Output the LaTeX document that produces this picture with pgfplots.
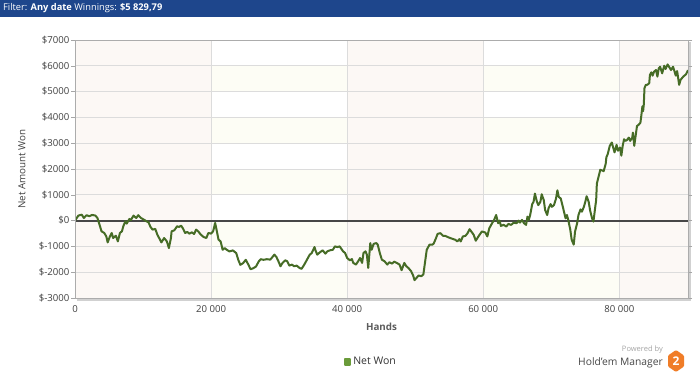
\documentclass[border=0pt]{standalone}
\usepackage{pgfplots}
\pgfplotsset{compat=1.18}
\usepackage{fontspec}
\setmainfont{Open Sans}
\definecolor{hmblue}{RGB}{30,70,140}
\definecolor{linegreen}{RGB}{70,108,38}
\definecolor{leggreen}{RGB}{106,155,58}
\definecolor{pinkbg}{RGB}{252,248,245}
\definecolor{yelbg}{RGB}{253,253,245}
\definecolor{gridc}{RGB}{220,220,220}
\definecolor{tickc}{RGB}{64,64,64}
\definecolor{hmorange}{RGB}{240,125,40}
\begin{document}
\begin{tikzpicture}
\useasboundingbox (0pt,0pt) rectangle (700pt,373pt);
\fill[white] (0pt,0pt) rectangle (700pt,373pt);
\fill[hmblue] (0pt,356pt) rectangle (700pt,373pt);
\node[anchor=west, text=white, font=\fontsize{9.3}{10}\selectfont, inner sep=0] at (3pt,364.5pt) {Filter: \textbf{Any date} Winnings: \textbf{\$5 829,79}};
% frame shadow
\fill[black!18] (688pt,73pt) rectangle (690.5pt,331pt);
\fill[black!18] (77pt,72.5pt) rectangle (690.5pt,75pt);
\begin{axis}[
  axis on top,
  at={(75pt,75pt)}, anchor=south west,
  scale only axis, width=613pt, height=258pt,
  xmin=0, xmax=90.1, ymin=-3000, ymax=7000,
  axis line style={draw=gray!65, line width=0.8pt},
  ytick={-3000,-2000,...,7000},
  yticklabels={\$-3000,\$-2000,\$-1000,\$0,\$1000,\$2000,\$3000,\$4000,\$5000,\$6000,\$7000},
  xtick={0,20,40,60,80},
  xticklabels={0,20 000,40 000,60 000,80 000},
  tick label style={font=\fontsize{9.6}{10}\selectfont, text=tickc},
  yticklabel style={inner xsep=1.5pt},
  tick align=outside, major tick length=4pt,
  ytick style={draw=gray!70, line width=0.6pt},
  xtick style={draw=none},
  ylabel={Net Amount Won},
  ylabel style={at={(axis description cs:-0.0865,0.5)}, anchor=center, font=\fontsize{9.8}{10}\selectfont, text=tickc},
  xlabel={Hands},
  xlabel style={at={(axis description cs:0.5,-0.112)}, anchor=center, font=\fontsize{9.8}{10}\selectfont\bfseries, text=tickc!85},
  legend style={at={(axis description cs:0.438,-0.248)}, anchor=west, draw=none, fill=none, font=\fontsize{10.5}{11}\selectfont, text=black!80, inner sep=0pt},
  legend image code/.code={\fill[leggreen] (0pt,-2.8pt) rectangle (5.6pt,2.8pt);},
]
% background bands
\fill[pinkbg] (axis cs:0,-3000) rectangle (axis cs:20,7000);
\fill[pinkbg] (axis cs:40,-3000) rectangle (axis cs:60,7000);
\fill[pinkbg] (axis cs:80,-3000) rectangle (axis cs:90.1,7000);
\fill[yelbg] (axis cs:20,-3000) rectangle (axis cs:40,-2000);
\fill[yelbg] (axis cs:20,-1000) rectangle (axis cs:40,0);
\fill[yelbg] (axis cs:20,1000) rectangle (axis cs:40,2000);
\fill[yelbg] (axis cs:20,3000) rectangle (axis cs:40,4000);
\fill[yelbg] (axis cs:20,5000) rectangle (axis cs:40,6000);
\fill[yelbg] (axis cs:60,-3000) rectangle (axis cs:80,-2000);
\fill[yelbg] (axis cs:60,-1000) rectangle (axis cs:80,0);
\fill[yelbg] (axis cs:60,1000) rectangle (axis cs:80,2000);
\fill[yelbg] (axis cs:60,3000) rectangle (axis cs:80,4000);
\fill[yelbg] (axis cs:60,5000) rectangle (axis cs:80,6000);
% grid
\pgfplotsinvokeforeach{-2000,-1000,1000,2000,3000,4000,5000,6000}{
  \draw[gridc, line width=0.8pt] (axis cs:0,#1) -- (axis cs:90.1,#1);
}
\pgfplotsinvokeforeach{20,40,60,80}{
  \draw[gridc, line width=0.8pt] (axis cs:#1,-3000) -- (axis cs:#1,7000);
}
\draw[black!72, line width=2pt] (axis cs:0,0) -- (axis cs:90.1,0);
% net won (x in thousands of hands)
\addplot[linegreen, line width=2pt, line join=round] coordinates {
(0,0) (0.5,195) (1.0,230) (1.3,100) (1.7,210) (2.1,170) (2.5,220) (3.0,195) (3.3,100) (3.6,-155)
(3.9,-415) (4.3,-480) (4.6,-610) (4.8,-845) (5.1,-635) (5.4,-480) (5.6,-675) (6.0,-585) (6.3,-805) (6.6,-480)
(6.9,-415) (7.1,-220) (7.4,-25) (7.6,-115) (8.0,65) (8.2,15) (8.6,195) (9.0,100) (9.3,210) (9.7,100)
(10.1,40) (10.5,-25) (10.8,-65) (11.1,-245) (11.4,-350) (11.8,-320) (12.1,-545) (12.5,-740) (12.7,-845) (13.1,-675)
(13.5,-805) (13.8,-1065) (14.1,-675) (14.2,-415) (14.6,-375) (15.0,-220) (15.3,-245) (15.6,-195) (15.9,-320) (16.2,-480)
(16.5,-440) (16.8,-505) (17.2,-455) (17.5,-520) (17.8,-350) (18.1,-415) (18.5,-545) (18.9,-635) (19.3,-675) (19.6,-480)
(20.0,-505) (20.3,-415) (20.6,-90) (20.8,-350) (21.1,-740) (21.4,-805) (21.7,-1130) (22.0,-1065) (22.3,-1130) (22.7,-1195)
(23.2,-1155) (23.7,-1260) (24.0,-1520) (24.3,-1715) (24.7,-1650) (25.1,-1520) (25.5,-1715) (25.8,-1885) (26.2,-1845) (26.6,-1780)
(27.0,-1585) (27.3,-1495) (27.7,-1520) (28.2,-1495) (28.7,-1513) (28.9,-1450) (29.3,-1320) (29.6,-1410) (29.9,-1577) (30.2,-1770)
(30.5,-1640) (30.9,-1540) (31.2,-1577) (31.5,-1745) (31.9,-1705) (32.2,-1770) (32.6,-1745) (33.0,-1835) (33.3,-1870) (33.7,-1705)
(34.1,-1513) (34.5,-1320) (34.8,-1256) (35.2,-1025) (35.4,-1190) (35.6,-1320) (36.0,-1230) (36.4,-1150) (36.8,-1280) (37.1,-1190)
(37.5,-1150) (37.9,-1130) (38.2,-1000) (38.6,-1025) (38.9,-1000) (39.4,-1190) (39.7,-1256) (40.0,-1450) (40.4,-1540) (40.7,-1490)
(40.9,-1640) (41.3,-1705) (41.7,-1540) (41.9,-1450) (42.2,-1640) (42.4,-1256) (42.7,-1190) (42.9,-1320) (43.1,-1835) (43.4,-870)
(43.6,-1130) (43.9,-900) (44.3,-870) (44.5,-935) (44.8,-1256) (45.1,-1513) (45.5,-1577) (45.9,-1705) (46.2,-1615) (46.6,-1667)
(46.9,-1590) (47.3,-1640) (47.7,-1705) (48.0,-1923) (48.4,-1640) (48.7,-1770) (49.0,-1835) (49.4,-1960) (49.7,-2128) (49.9,-2307)
(50.2,-2218) (50.5,-2128) (50.9,-2154) (51.2,-2090) (51.5,-1513) (51.7,-1130) (52.1,-935) (52.5,-935) (52.7,-900) (53.0,-718)
(53.3,-513) (53.7,-487) (54.1,-590) (54.4,-590) (54.8,-640) (55.2,-680) (55.6,-718) (55.9,-744) (56.2,-808) (56.5,-718)
(56.7,-808) (57.0,-615) (57.4,-590) (57.7,-487) (58.0,-333) (58.6,-550) (58.9,-780) (59.3,-613) (59.8,-421) (60.3,-460)
(60.6,-613) (60.9,-294) (61.3,-102) (61.6,26) (61.9,217) (62.2,-102) (62.4,0) (62.6,-204) (63.0,-166) (63.4,-230)
(63.7,-128) (64.1,-166) (64.5,-77) (64.9,-102) (65.2,0) (65.4,-77) (65.7,26) (66.0,-102) (66.3,-166) (66.5,153)
(66.7,26) (66.9,217) (67.2,639) (67.4,728) (67.6,1047) (67.9,728) (68.1,600) (68.4,728) (68.6,1022) (68.9,792)
(69.1,409) (69.4,217) (69.6,473) (69.9,639) (70.1,536) (70.4,600) (70.7,856) (70.9,1175) (71.1,920) (71.4,856)
(71.7,536) (72.1,89) (72.3,217) (72.5,26) (72.8,-358) (73.0,-741) (73.3,-932) (73.5,-421) (73.8,-102) (74.0,217)
(74.3,434) (74.5,345) (74.8,536) (75.0,728) (75.2,945) (75.5,728) (75.7,409) (76.0,89) (76.2,-38) (76.5,600)
(76.6,792) (76.7,1430) (77.0,1750) (77.2,1967) (77.5,1941) (77.7,1916) (78.0,2197) (78.1,2452) (78.3,2580) (78.6,2899)
(78.9,3027) (79.1,2835) (79.3,2644) (79.6,2937) (79.8,2708) (80.1,2835) (80.3,2516) (80.5,2899) (80.7,3155) (80.9,3091)
(81.1,3116) (81.4,3218) (81.6,3091) (81.9,3218) (82.0,3410) (82.2,2899) (82.4,3282) (82.6,3665) (82.9,3729) (83.1,3793)
(83.2,3985) (83.4,4432) (83.5,4240) (83.6,4496) (83.7,5134) (83.9,5262) (84.1,5262) (84.4,5326) (84.5,5645) (84.7,5747)
(84.9,5619) (85.1,5773) (85.4,5837) (85.6,5581) (85.8,5900) (86.0,5964) (86.3,5709) (86.6,6003) (86.8,5875) (87.1,6054)
(87.4,5926) (87.6,5837) (87.9,5964) (88.1,5798) (88.3,5619) (88.5,5798) (88.8,5262) (89.0,5454) (89.4,5581) (89.8,5670)
(90.1,5830)
};
\addlegendentry{Net Won}
\end{axis}
% logo
\node[anchor=east, text=black!35, font=\fontsize{7.5}{8}\selectfont, inner sep=0] at (663pt,23pt) {Powered by};
\node[anchor=east, text=black!72, font=\fontsize{10.3}{11}\selectfont, inner sep=0] at (663pt,10.5pt) {Hold'em Manager};
\fill[hmorange, rounded corners=1pt] (676pt,23pt) -- (684pt,17.5pt) -- (684pt,6.5pt) -- (676pt,1pt) -- (668pt,6.5pt) -- (668pt,17.5pt) -- cycle;
\node[text=white, font=\fontsize{12}{12}\selectfont\bfseries, inner sep=0] at (676pt,12pt) {2};
\end{tikzpicture}
\end{document}
